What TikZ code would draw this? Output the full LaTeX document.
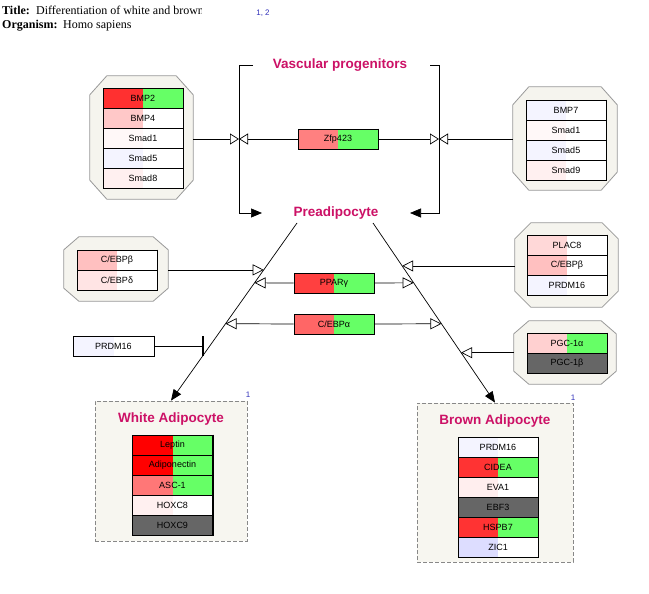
\documentclass[tikz,border=0pt]{standalone}
\usepackage{fontspec}
\setmainfont{Liberation Serif}
\setsansfont{Liberation Sans}
\usetikzlibrary{arrows.meta,calc}

\definecolor{grn}{HTML}{66FF66}
\definecolor{hdrpink}{HTML}{CC1166}
\definecolor{refblue}{HTML}{3333BB}
\definecolor{grpfill}{HTML}{F5F4EE}
\definecolor{grpborder}{HTML}{999999}
\definecolor{boxfill}{HTML}{F7F6F0}
\definecolor{boxborder}{HTML}{888888}
\definecolor{dgray}{HTML}{666666}
\definecolor{cBMPtwo}{HTML}{FF3030}
\definecolor{cBMPfour}{HTML}{FFC8C8}
\definecolor{cSmadone}{HTML}{FFF8F8}
\definecolor{cBlue}{HTML}{F4F4FF}
\definecolor{cSmadeight}{HTML}{FFF0F0}
\definecolor{cZfp}{HTML}{FF8080}
\definecolor{cPlac}{HTML}{FFD8D8}
\definecolor{cCebpb}{HTML}{FFC0C0}
\definecolor{cCebpd}{HTML}{FFE4E4}
\definecolor{cPgc}{HTML}{FFD0D0}
\definecolor{cPpar}{HTML}{FF4040}
\definecolor{cCebpa}{HTML}{FF6666}
\definecolor{cLep}{HTML}{FF0000}
\definecolor{cAsc}{HTML}{FF7777}
\definecolor{cCidea}{HTML}{FF3333}
\definecolor{cEva}{HTML}{FFEEEE}
\definecolor{cZic}{HTML}{DDDDFF}

\tikzset{
  grpbox/.style={inner sep=0pt, draw=none},
  grpline/.style={draw=grpborder, fill=grpfill, line width=0.8pt},
  gene/.style={draw=black, line width=0.8pt, minimum width=80pt, minimum height=20pt,
    inner sep=0pt, fill=white, font=\sffamily\fontsize{9}{10}\selectfont},
  halves/.style 2 args={path picture={
    \fill[#1] (path picture bounding box.south west) rectangle (path picture bounding box.north);
    \fill[#2] (path picture bounding box.south) rectangle (path picture bounding box.north east);}},
  hdr/.style={font=\sffamily\bfseries\fontsize{13.5}{15}\selectfont, text=hdrpink, inner sep=1pt},
  conn/.style={draw=black, line width=0.7pt},
  opentip/.style={conn, -{Triangle[length=11pt,width=11pt,fill=white]}},
  bowtip/.style={conn, -{Triangle[length=9pt,width=11pt,fill=white]}},
  solidtip/.style={conn, -{Triangle[length=11pt,width=9pt]}},
  inhib/.style={conn, -{Bar[width=20pt,line width=1.6pt]}},
  celltype/.style={draw=boxborder, dash pattern=on 4pt off 2pt, fill=boxfill, line width=0.8pt, inner sep=0pt},
  refnum/.style={font=\sffamily\fontsize{8}{9}\selectfont, text=refblue, inner sep=0pt},
  titletext/.style={font=\fontsize{12}{13}\selectfont, inner sep=0pt, anchor=base west},
}

\newcommand\octa[3]{%
  \draw[grpline] ($(#1.north west)+(#2,0)$) -- ($(#1.north east)+(-#2,0)$)
    -- ($(#1.north east)+(0,#3)$) -- ($(#1.south east)+(0,-#3)$)
    -- ($(#1.south east)+(-#2,0)$) -- ($(#1.south west)+(#2,0)$)
    -- ($(#1.south west)+(0,-#3)$) -- ($(#1.north west)+(0,#3)$) -- cycle;}
\newcommand\thickedge[2]{%
  \draw[line width=1.6pt] (#1.north east) -- (#2.south east) -- (#2.south west);}

\begin{document}
\begin{tikzpicture}[x=1pt,y=-1pt]
\useasboundingbox[fill=white] (0,0) rectangle (649,594);

% ---- header text
\node[titletext] (ttlA) at (2,15) {\textbf{Title:}};
\begin{scope}
  \clip (0,0) rectangle (201,22);
  \node[titletext] (ttlB) at (36,15) {Differentiation of white and brown};
\end{scope}
\node[titletext] (orgA) at (2,29) {\textbf{Organism:}};
\node[titletext] (orgB) at (63,29) {Homo sapiens};
\node[refnum] (ref12) at (263,13) {1, 2};

% ---- headings
\node[hdr] (vasc) at (340,65) {Vascular progenitors};
\node[hdr] (pre) at (336,213) {Preadipocyte};

% ---- adipocyte boxes
\node[celltype, minimum width=152pt, minimum height=140pt] (white) at (171,471) {};
\node[celltype, minimum width=156pt, minimum height=159pt] (brown) at (495,482.5) {};
\node[hdr] (whiteT) at (171,419) {White Adipocyte};
\node[hdr] (brownT) at (495,421) {Brown Adipocyte};
\node[refnum] (refW) at (248,395) {1};
\node[refnum] (refB) at (573,398) {1};

% ---- groups (octagons)
\node[grpbox, minimum width=103pt, minimum height=123pt] (g1) at (141.5,137.5) {};
\octa{g1}{17}{19}
\node[grpbox, minimum width=104pt, minimum height=103pt] (g2) at (565,138.5) {};
\octa{g2}{16}{18}
\node[grpbox, minimum width=103pt, minimum height=84pt] (g3) at (566.5,265) {};
\octa{g3}{16}{16}
\node[grpbox, minimum width=102pt, minimum height=63pt] (g4) at (565,352.5) {};
\octa{g4}{15}{13}
\node[grpbox, minimum width=104pt, minimum height=64pt] (g5) at (116,269) {};
\octa{g5}{15}{13}

% ---- group 1 genes
\node[gene, halves={cBMPtwo}{grn}] (bmp2) at (143,98) {BMP2};
\node[gene, halves={cBMPfour}{white}] (bmp4) at (143,118) {BMP4};
\node[gene, halves={cSmadone}{white}] (smad1a) at (143,138) {Smad1};
\node[gene, halves={cBlue}{white}] (smad5a) at (143,158) {Smad5};
\node[gene, halves={cSmadeight}{white}] (smad8) at (143,178) {Smad8};
\thickedge{bmp2}{smad8}

% ---- group 2 genes
\node[gene, halves={cBlue}{white}] (bmp7) at (566,110) {BMP7};
\node[gene, halves={cSmadone}{white}] (smad1b) at (566,130) {Smad1};
\node[gene, halves={cBlue}{white}] (smad5b) at (566,150) {Smad5};
\node[gene, halves={cSmadeight}{white}] (smad9) at (566,170) {Smad9};
\thickedge{bmp7}{smad9}

% ---- group 3 genes
\node[gene, halves={cPlac}{white}] (plac8) at (567,245) {PLAC8};
\node[gene, halves={cCebpb}{white}] (cebpbR) at (567,265) {C/EBPβ};
\node[gene, halves={cBlue}{white}] (prdmR) at (567,285) {PRDM16};
\thickedge{plac8}{prdmR}

% ---- group 4 genes
\node[gene, halves={cPgc}{grn}] (pgca) at (567,343) {PGC-1α};
\node[gene, fill=dgray] (pgcb) at (567,363) {PGC-1β};
\thickedge{pgca}{pgcb}

% ---- group 5 genes
\node[gene, halves={cCebpb}{white}] (cebpbL) at (117,260) {C/EBPβ};
\node[gene, halves={cCebpd}{white}] (cebpd) at (117,280) {C/EBPδ};
\thickedge{cebpbL}{cebpd}

% ---- single genes
\node[gene, halves={cZfp}{grn}] (zfp) at (338,139) {Zfp423};
\thickedge{zfp}{zfp}
\node[gene, halves={cPpar}{grn}] (ppar) at (334,283) {PPARγ};
\thickedge{ppar}{ppar}
\node[gene, halves={cCebpa}{grn}] (cebpa) at (334,324) {C/EBPα};
\node[gene, halves={cBlue}{white}, minimum width=81pt] (prdmL) at (113.5,346) {PRDM16};
\thickedge{prdmL}{prdmL}

% ---- white adipocyte genes
\node[gene, halves={cLep}{grn}] (lep) at (172.5,445) {Leptin};
\node[gene, halves={cLep}{grn}] (adipo) at (172.5,465) {Adiponectin};
\node[gene, halves={cAsc}{grn}] (asc) at (172.5,485) {ASC-1};
\node[gene, halves={cSmadeight}{white}] (hoxc8) at (172.5,505) {HOXC8};
\node[gene, fill=dgray] (hoxc9) at (172.5,525) {HOXC9};
\thickedge{lep}{hoxc9}

% ---- brown adipocyte genes
\node[gene, halves={cBlue}{white}] (prdmB) at (498,447) {PRDM16};
\node[gene, halves={cCidea}{grn}] (cidea) at (498,467) {CIDEA};
\node[gene, halves={cEva}{white}] (eva1) at (498,487) {EVA1};
\node[gene, fill=dgray] (ebf3) at (498,507) {EBF3};
\node[gene, halves={cCidea}{grn}] (hspb7) at (498,527) {HSPB7};
\node[gene, halves={cZic}{white}] (zic1) at (498,547) {ZIC1};
\thickedge{prdmB}{zic1}

% ---- bracket: vascular progenitors -> preadipocyte
\coordinate (bLs) at (253,65);
\coordinate (bL) at (239,65);
\coordinate (bLe) at (262,213);
\coordinate (bRs) at (430,65);
\coordinate (bR) at (439,65);
\coordinate (bRe) at (410,213);
\draw[solidtip] (bLs) -- (bL) |- (bLe);
\draw[solidtip] (bRs) -- (bR) |- (bRe);

% ---- junctions on bracket
\coordinate (jL) at (239,139);
\coordinate (jR) at (439,139);
\draw[bowtip] (g1.east |- jL) -- (jL);
\draw[bowtip] (zfp.west) -- (jL);
\draw[bowtip] (zfp.east) -- (jR);
\draw[bowtip] (g2.west |- jR) -- (jR);

% ---- differentiation lines
\coordinate (dL0) at (297,223);
\coordinate (dR0) at (373,223);
\draw[solidtip] (dL0) -- (white.north);
\draw[solidtip] (dR0) -- (brown.north);

\coordinate (aL1) at ($(dL0)!0.264!(white.north)$);
\coordinate (aL2) at ($(dL0)!0.337!(white.north)$);
\coordinate (aL3) at ($(dL0)!0.567!(white.north)$);
\coordinate (aR1) at ($(dR0)!0.239!(brown.north)$);
\coordinate (aR2) at ($(dR0)!0.333!(brown.north)$);
\coordinate (aR3) at ($(dR0)!0.561!(brown.north)$);
\coordinate (aR4) at ($(dR0)!0.722!(brown.north)$);
\coordinate (inh) at (204,346);

\draw[opentip] (g5.east |- aL1) -- (aL1);
\draw[opentip] (ppar.west) -- (aL2);
\draw[opentip] (ppar.east) -- (aR2);
\draw[opentip] (cebpa.west) -- (aL3);
\draw[opentip] (cebpa.east) -- (aR3);
\draw[opentip] (g3.west |- aR1) -- (aR1);
\draw[opentip] (g4.west |- aR4) -- (aR4);
\draw[inhib] (prdmL.east) -- (inh);
\end{tikzpicture}
\end{document}
